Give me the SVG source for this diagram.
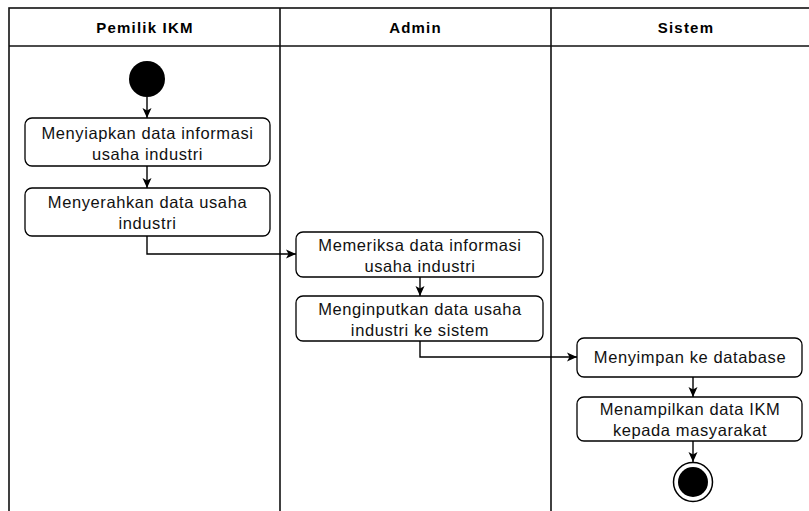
<svg xmlns="http://www.w3.org/2000/svg" width="809" height="511" viewBox="0 0 809 511">
  <style>
    .lane { fill: none; stroke: #111; stroke-width: 1.6; }
    .hdr { font-family: "Liberation Sans", Arial, sans-serif; font-weight: bold; font-size: 15px; letter-spacing: 1.2px; text-anchor: middle; fill: #000; }
    .box { fill: #fff; stroke: #000; stroke-width: 1.3; }
    .lbl { font-family: "Liberation Sans", Arial, sans-serif; font-size: 16.5px; letter-spacing: 0.6px; text-anchor: middle; fill: #111; }
    .edge { fill: none; stroke: #000; stroke-width: 1.4; }
  </style>
  <defs>
    <marker id="arr" viewBox="0 0 10 10" refX="10" refY="5" markerWidth="10" markerHeight="10" markerUnits="userSpaceOnUse" orient="auto">
      <path d="M0,0.5 L10,5 L0,9.5 L2.5,5 Z" fill="#000"/>
    </marker>
  </defs>
  <rect width="809" height="511" fill="#fff"/>

  <g id="swimlanes">
    <rect class="lane" x="9" y="8" width="811" height="520"/>
    <line class="lane" x1="9" y1="46" x2="820" y2="46"/>
    <line class="lane" x1="280" y1="8" x2="280" y2="520"/>
    <line class="lane" x1="551" y1="8" x2="551" y2="520"/>
    <text class="hdr" x="145" y="33">Pemilik IKM</text>
    <text class="hdr" x="415.5" y="33">Admin</text>
    <text class="hdr" x="686" y="33">Sistem</text>
  </g>

  <g id="connectors">
    <line class="edge" x1="147" y1="97" x2="147" y2="118" marker-end="url(#arr)"/>
    <line class="edge" x1="147" y1="166" x2="147" y2="188" marker-end="url(#arr)"/>
    <polyline class="edge" points="147,236 147,254 296,254" marker-end="url(#arr)"/>
    <line class="edge" x1="420" y1="277" x2="420" y2="296" marker-end="url(#arr)"/>
    <polyline class="edge" points="420,341 420,357 577,357" marker-end="url(#arr)"/>
    <line class="edge" x1="693" y1="377" x2="693" y2="397" marker-end="url(#arr)"/>
    <line class="edge" x1="693" y1="441" x2="693" y2="462" marker-end="url(#arr)"/>
  </g>

  <g id="start">
    <circle cx="147" cy="79" r="18" fill="#000"/>
  </g>

  <g id="n1">
    <rect class="box" x="25" y="118" width="245" height="48" rx="7"/>
    <text class="lbl" x="147.5" y="138.5">Menyiapkan data informasi</text>
    <text class="lbl" x="147.5" y="159.5">usaha industri</text>
  </g>

  <g id="n2">
    <rect class="box" x="25" y="188" width="245" height="48" rx="7"/>
    <text class="lbl" x="147.5" y="208">Menyerahkan data usaha</text>
    <text class="lbl" x="147.5" y="229">industri</text>
  </g>

  <g id="n3">
    <rect class="box" x="296" y="232" width="247" height="45" rx="7"/>
    <text class="lbl" x="420" y="250.5">Memeriksa data informasi</text>
    <text class="lbl" x="420" y="271.5">usaha industri</text>
  </g>

  <g id="n4">
    <rect class="box" x="296" y="296" width="247" height="45" rx="7"/>
    <text class="lbl" x="420" y="314.5">Menginputkan data usaha</text>
    <text class="lbl" x="420" y="335.5">industri ke sistem</text>
  </g>

  <g id="n5">
    <rect class="box" x="577" y="338" width="225" height="39" rx="7"/>
    <text class="lbl" x="690" y="363">Menyimpan ke database</text>
  </g>

  <g id="n6">
    <rect class="box" x="577" y="397" width="225" height="44" rx="7"/>
    <text class="lbl" x="690" y="415">Menampilkan data IKM</text>
    <text class="lbl" x="690" y="436">kepada masyarakat</text>
  </g>

  <g id="end">
    <circle cx="693" cy="482" r="19.5" fill="#fff" stroke="#000" stroke-width="1.5"/>
    <circle cx="693" cy="482" r="15" fill="#000"/>
  </g>
</svg>
